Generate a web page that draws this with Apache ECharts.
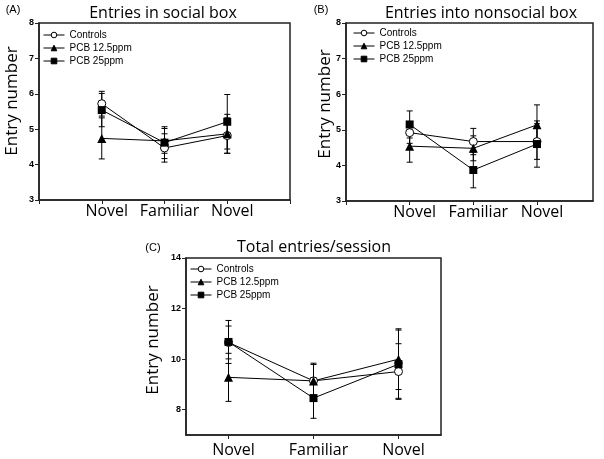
<!DOCTYPE html>
<html><head><meta charset="utf-8">
<script src="https://cdn.jsdelivr.net/npm/echarts@6/dist/echarts.min.js"></script>
<style>html,body{margin:0;padding:0;background:#fff}#c{width:604px;height:459px}</style>
</head><body><div id="c"></div>
<script>
// ---------- data ----------
const categories = ['Novel', 'Familiar', 'Novel'];
const seriesNames = ['Controls', 'PCB 12.5ppm', 'PCB 25ppm'];
const panelTitles = ['Entries in social box', 'Entries into nonsocial box', 'Total entries/session'];
const panelLabels = ['(A)', '(B)', '(C)'];
const yAxisName = 'Entry number';
const ticksAB = [3, 4, 5, 6, 7, 8];
const ticksC = [8, 10, 12, 14];

// (A) Entries in social box
const socialControls = [5.72, 4.47, 4.82];
const socialPCB125   = [4.74, 4.67, 4.87];
const socialPCB25    = [5.54, 4.62, 5.21];
const socialControlsErr = [0.35, 0.40, 0.50];
const socialPCB125Err   = [0.58, 0.35, 0.55];
const socialPCB25Err    = [0.47, 0.45, 0.77];

// (B) Entries into nonsocial box
const nonsocialControls = [4.92, 4.67, 4.67];
const nonsocialPCB125   = [4.54, 4.48, 5.14];
const nonsocialPCB25    = [5.15, 3.87, 4.60];
const nonsocialControlsErr = [0.30, 0.37, 0.50];
const nonsocialPCB125Err   = [0.45, 0.35, 0.56];
const nonsocialPCB25Err    = [0.38, 0.50, 0.65];

// (C) Total entries/session
const totalControls = [10.66, 9.14, 9.51];
const totalPCB125   = [9.28, 9.14, 10.00];
const totalPCB25    = [10.68, 8.46, 9.80];
const totalControlsErr = [0.65, 0.70, 1.10];
const totalPCB125Err   = [0.95, 0.65, 1.20];
const totalPCB25Err    = [0.85, 0.80, 1.35];

// ---------- chart ----------
const chart = echarts.init(document.getElementById('c'), null, {renderer: 'canvas'});

const symbolStyles = [
  {symbol: 'circle', symbolSize: 8, itemStyle: {color: '#fff', borderColor: '#000', borderWidth: 1}},
  {symbol: 'triangle', symbolSize: 9, itemStyle: {color: '#000', borderColor: '#000', borderWidth: 0}},
  {symbol: 'rect', symbolSize: 8, itemStyle: {color: '#000', borderColor: '#000', borderWidth: 0}}
];

const panels = [
  {means: [socialControls, socialPCB125, socialPCB25], errs: [socialControlsErr, socialPCB125Err, socialPCB25Err]},
  {means: [nonsocialControls, nonsocialPCB125, nonsocialPCB25], errs: [nonsocialControlsErr, nonsocialPCB125Err, nonsocialPCB25Err]},
  {means: [totalControls, totalPCB125, totalPCB25], errs: [totalControlsErr, totalPCB125Err, totalPCB25Err]}
];

const grids = [
  {left: 39, top: 23, width: 251, height: 177},
  {left: 346, top: 23, width: 247, height: 178},
  {left: 186, top: 258, width: 255, height: 177}
];
grids.forEach(g => Object.assign(g, {show: true, borderColor: '#222', borderWidth: 1.5, backgroundColor: 'transparent'}));

const xRanges = [[0, 4], [0, 3.88], [0.5, 3.5]];
const xTickVals = [[0, 1, 2, 3, 4], [0, 1, 2, 3], [1, 2, 3]];
const yRanges = [[3, 8], [3, 8], [7, 14]];
const yTickVals = [ticksAB, ticksAB, ticksC];
const xLabelMargins = [3, 3, 7];

const xAxes = [], yAxes = [], series = [], legends = [];
for (let p = 0; p < 3; p++) {
  xAxes.push({
    type: 'value', gridIndex: p, min: xRanges[p][0], max: xRanges[p][1],
    axisLine: {show: true, onZero: false, lineStyle: {color: '#222', width: 1.5}},
    axisTick: {show: true, inside: false, length: 4, customValues: xTickVals[p], lineStyle: {color: '#222'}},
    axisLabel: {
      show: true, customValues: [1, 2, 3], margin: xLabelMargins[p], padding: [0, 0, 0, 10],
      formatter: v => categories[Math.round(v) - 1] || '',
      fontFamily: 'Open Sans', fontSize: 16, color: '#000'
    },
    splitLine: {show: false}
  });
  yAxes.push({
    type: 'value', gridIndex: p, min: yRanges[p][0], max: yRanges[p][1],
    axisLine: {show: true, onZero: false, lineStyle: {color: '#222', width: 1.5}},
    axisTick: {show: true, inside: false, length: 4, customValues: yTickVals[p], lineStyle: {color: '#222'}},
    axisLabel: {show: true, customValues: yTickVals[p], margin: 5,
      fontFamily: 'Liberation Sans', fontSize: 9, fontWeight: 'bold', color: '#000'},
    splitLine: {show: false}
  });
  // error bars
  for (let s = 0; s < 3; s++) {
    const m = panels[p].means[s], e = panels[p].errs[s];
    series.push({
      type: 'custom', xAxisIndex: p, yAxisIndex: p, z: 1, silent: true,
      data: m.map((v, i) => [i + 1, v - e[i], v + e[i]]),
      encode: {x: 0, y: [1, 2]},
      renderItem: function (params, api) {
        const x = api.value(0);
        const lo = api.coord([x, api.value(1)]);
        const hi = api.coord([x, api.value(2)]);
        const hw = 3;
        const st = {stroke: '#000', lineWidth: 1};
        return {type: 'group', children: [
          {type: 'line', shape: {x1: lo[0], y1: lo[1], x2: hi[0], y2: hi[1]}, style: st},
          {type: 'line', shape: {x1: lo[0] - hw, y1: lo[1], x2: lo[0] + hw, y2: lo[1]}, style: st},
          {type: 'line', shape: {x1: hi[0] - hw, y1: hi[1], x2: hi[0] + hw, y2: hi[1]}, style: st}
        ]};
      }
    });
  }
  // lines
  for (let s = 0; s < 3; s++) {
    const m = panels[p].means[s];
    series.push(Object.assign({
      type: 'line', name: seriesNames[s], xAxisIndex: p, yAxisIndex: p, z: 3,
      data: m.map((v, i) => [i + 1, v]),
      lineStyle: {color: '#000', width: 1},
      showAllSymbol: true, animation: false
    }, JSON.parse(JSON.stringify(symbolStyles[s]))));
  }
}

const legendPos = [{left: 43, top: 29}, {left: 353, top: 27}, {left: 190, top: 263}];
legendPos.forEach(pos => legends.push(Object.assign({
  orient: 'vertical', padding: 0, itemGap: 1, itemWidth: 21, itemHeight: 7,
  selectedMode: false, data: seriesNames,
  lineStyle: {width: 1},
  itemStyle: {borderWidth: 1},
  textStyle: {fontFamily: 'Liberation Sans', fontSize: 10, color: '#000', lineHeight: 12}
}, pos)));

const txt = (x, y, text, font, extra) => Object.assign({
  type: 'text', x: x, y: y,
  style: {text: text, font: font, fill: '#000', align: 'center', verticalAlign: 'middle'}
}, extra || {});

const graphic = [
  txt(163, 13, panelTitles[0], '16px "Open Sans"'),
  txt(481, 13, panelTitles[1], '16px "Open Sans"'),
  txt(314, 247, panelTitles[2], '16px "Open Sans"'),
  txt(13, 10, panelLabels[0], '11px "Liberation Sans"'),
  txt(321, 10, panelLabels[1], '11px "Liberation Sans"'),
  txt(153, 248, panelLabels[2], '11px "Liberation Sans"'),
  txt(12, 101, yAxisName, '17px "Open Sans"', {rotation: Math.PI / 2}),
  txt(325, 104, yAxisName, '17px "Open Sans"', {rotation: Math.PI / 2}),
  txt(153, 340, yAxisName, '17px "Open Sans"', {rotation: Math.PI / 2})
];

chart.setOption({
  animation: false,
  backgroundColor: '#fff',
  grid: grids, xAxis: xAxes, yAxis: yAxes, series: series, legend: legends, graphic: graphic
});
</script></body></html>
